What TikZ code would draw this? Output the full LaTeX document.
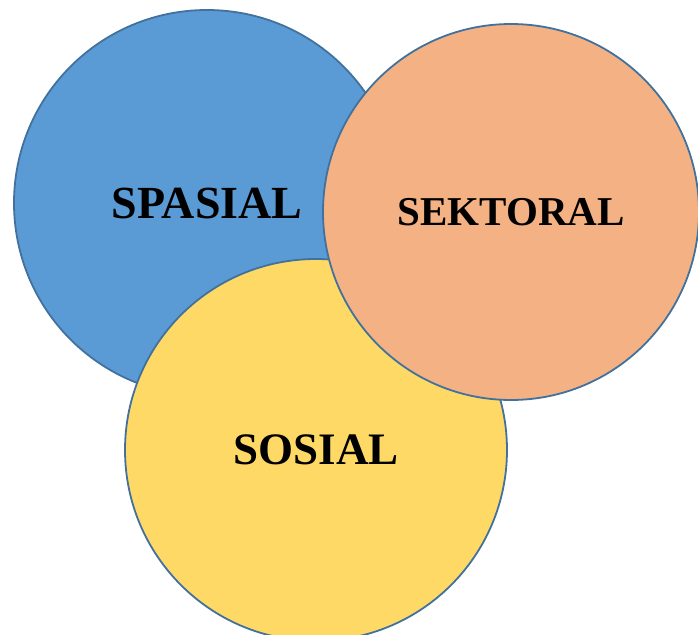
\documentclass[tikz,border=0pt]{standalone}
\usepackage{fontspec}
\setmainfont{Liberation Serif}
\definecolor{rim}{HTML}{41719C}
\definecolor{spasialblue}{HTML}{5B9BD5}
\definecolor{sektoralorange}{HTML}{F4B183}
\definecolor{sosialyellow}{HTML}{FFD966}
\begin{document}
\begin{tikzpicture}[x=1pt, y=-1pt,
    bubble/.style={circle, draw=rim, line width=1.8pt, inner sep=0pt, font=\bfseries}]
    \useasboundingbox (0,0) rectangle (698,634);

    \node (spasial) [bubble, fill=spasialblue, minimum size=386pt] at (207,203)
    {\fontsize{46}{54}\selectfont SPASIAL};

    \node (sosial) [bubble, fill=sosialyellow, minimum size=382pt] at (316,450)
    {\fontsize{45}{54}\selectfont SOSIAL};

    \node (sektoral) [bubble, fill=sektoralorange, minimum size=376pt] at (511,212)
    {\fontsize{41}{48}\selectfont SEKTORAL};
\end{tikzpicture}
\end{document}
